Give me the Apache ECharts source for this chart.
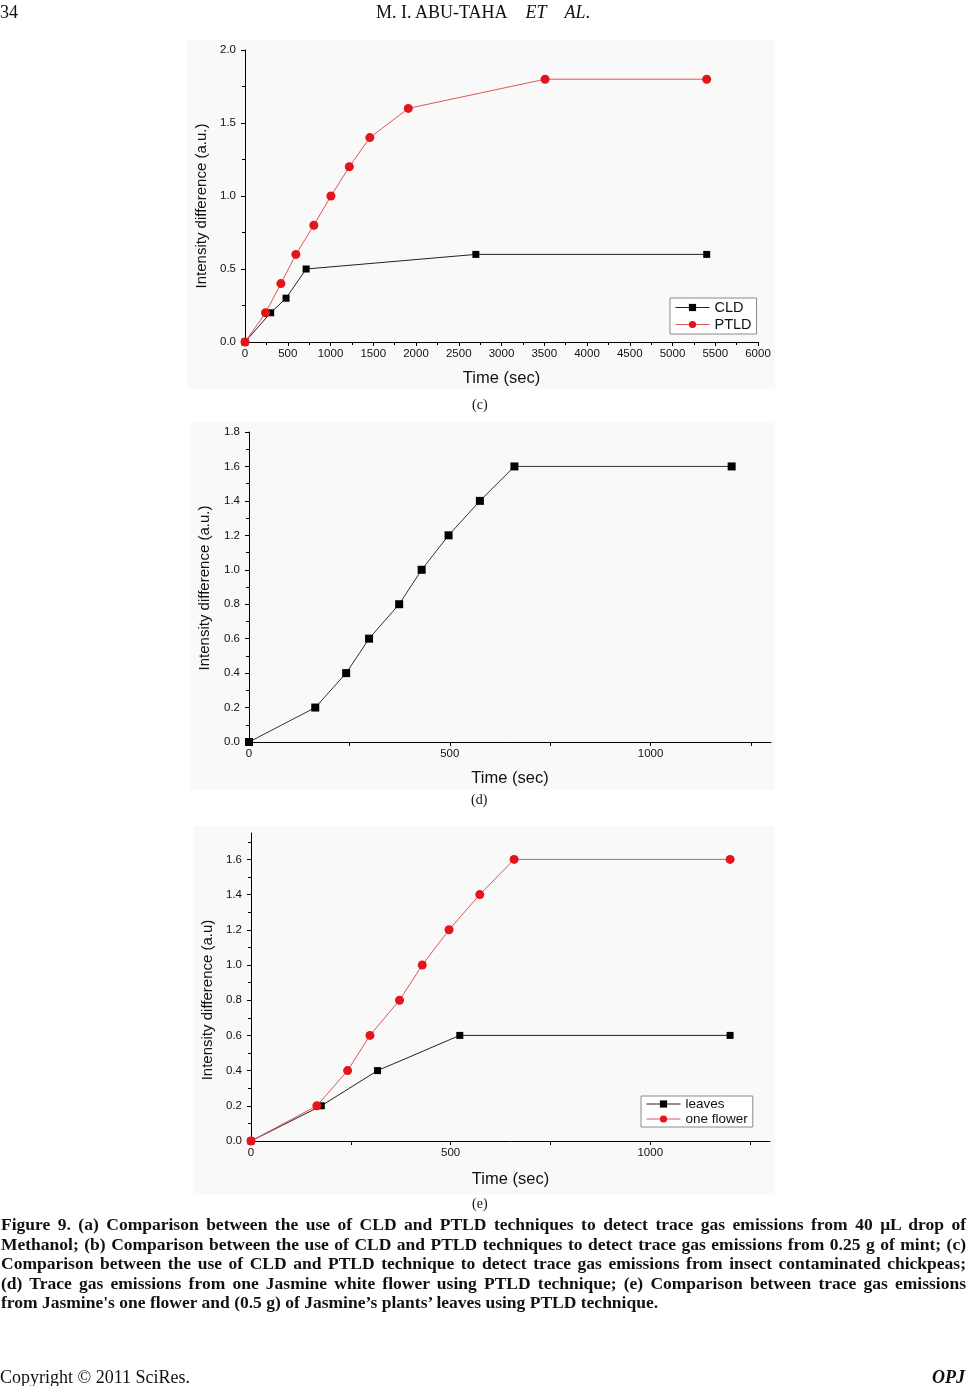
<!DOCTYPE html>
<html><head><meta charset="utf-8">
<script src="https://cdn.jsdelivr.net/npm/echarts@6/dist/echarts.min.js"></script>
<style>
html,body{margin:0;padding:0;background:#fff;}
#wrap{position:relative;width:970px;height:1386px;overflow:hidden;background:#fff;}
#chart{position:absolute;left:0;top:0;width:970px;height:1386px;}
.t{position:absolute;font-family:'Liberation Serif','Times New Roman',serif;color:#111;white-space:nowrap;z-index:5;}
.cap{position:absolute;left:1px;width:965px;font-family:'Liberation Serif','Times New Roman',serif;font-weight:bold;font-size:17.5px;line-height:19.5px;height:19.5px;color:#111;text-align:justify;text-align-last:justify;z-index:5;}
.cap.last{text-align:left;text-align-last:left;}
</style></head>
<body>
<div id="wrap">
<div id="chart"></div>
<div class="t" style="left:0;top:2px;font-size:18px;">34</div>
<div class="t" style="left:376px;top:2px;font-size:18px;">M. I. ABU-TAHA&nbsp;&nbsp;&nbsp;&nbsp;<i>ET</i>&nbsp;&nbsp;&nbsp;&nbsp;<i>AL</i>.</div>
<div class="t" style="left:472px;top:397px;font-size:14px;">(c)</div>
<div class="t" style="left:471px;top:792px;font-size:14px;">(d)</div>
<div class="t" style="left:472px;top:1196px;font-size:14px;">(e)</div>
<div class="cap" style="top:1215px;">Figure 9. (a) Comparison between the use of CLD and PTLD techniques to detect trace gas emissions from 40 μL drop of</div>
<div class="cap" style="top:1235px;">Methanol; (b) Comparison between the use of CLD and PTLD techniques to detect trace gas emissions from 0.25 g of mint; (c)</div>
<div class="cap" style="top:1254px;">Comparison between the use of CLD and PTLD technique to detect trace gas emissions from insect contaminated chickpeas;</div>
<div class="cap" style="top:1274px;">(d) Trace gas emissions from one Jasmine white flower using PTLD technique; (e) Comparison between trace gas emissions</div>
<div class="cap last" style="top:1293px;">from Jasmine's one flower and (0.5 g) of Jasmine’s plants’ leaves using PTLD technique.</div>
<div class="t" style="left:0;top:1367px;font-size:18px;">Copyright © 2011 SciRes.</div>
<div class="t" style="right:5px;top:1367px;font-size:18px;font-weight:bold;font-style:italic;">OPJ</div>
</div>
<script>
// ---- Panel (c): insect contaminated chickpeas ----
const cCldX  = [0, 300, 480, 715, 2700, 5400];
const cCldY  = [0, 0.2, 0.3, 0.5, 0.6, 0.6];
const cPtldX = [0, 240, 420, 595, 805, 1005, 1220, 1460, 1910, 3510, 5400];
const cPtldY = [0, 0.2, 0.4, 0.6, 0.8, 1.0, 1.2, 1.4, 1.6, 1.8, 1.8];
const cXLabels = [0, 500, 1000, 1500, 2000, 2500, 3000, 3500, 4000, 4500, 5000, 5500, 6000];
const cYLabels = [0, 0.5, 1.0, 1.5, 2.0];
// ---- Panel (d): one Jasmine flower ----
const dX = [0, 165, 242, 299, 374, 430, 497, 575, 661, 1202];
const dY = [0, 0.2, 0.4, 0.6, 0.8, 1.0, 1.2, 1.4, 1.6, 1.6];
const dXLabels = [0, 500, 1000];
const dXTicks = [0, 250, 500, 750, 1000, 1250];
const dYLabels = [0, 0.2, 0.4, 0.6, 0.8, 1.0, 1.2, 1.4, 1.6, 1.8];
// ---- Panel (e): leaves vs one flower ----
const eLeavesX = [0, 176, 317, 523, 1200];
const eLeavesY = [0, 0.2, 0.4, 0.6, 0.6];
const eFlowerX = [0, 165, 242, 298, 372, 429, 496, 573, 659, 1200];
const eFlowerY = [0, 0.2, 0.4, 0.6, 0.8, 1.0, 1.2, 1.4, 1.6, 1.6];
const eXLabels = [0, 500, 1000];
const eXTicks = [0, 250, 500, 750, 1000, 1250];
const eYLabels = [0, 0.2, 0.4, 0.6, 0.8, 1.0, 1.2, 1.4, 1.6];

const zip = (xs, ys) => xs.map((x, i) => [x, ys[i]]);
const SANS = "'Liberation Sans', Arial, sans-serif";
const BLACK = '#000';
const RED = '#e3141c';
const RED_LINE = '#e05555';

function xAx(grid, max, interval, labelVals, tickVals, minor, nameGap) {
  const ax = {
    type: 'value', gridIndex: grid, min: 0, max, interval,
    name: 'Time (sec)', nameLocation: 'middle', nameGap,
    nameTextStyle: {fontFamily: SANS, fontSize: 16.5, color: '#111'},
    axisLine: {show: true, onZero: false, lineStyle: {color: BLACK, width: 1}},
    axisTick: {show: true, inside: false, length: 4, lineStyle: {color: BLACK}},
    minorTick: {show: minor, splitNumber: 2, length: 3, lineStyle: {color: BLACK}},
    axisLabel: {show: true, margin: 6, fontFamily: SANS, fontSize: 11.5, color: '#111', customValues: labelVals,
      formatter: v => String(v)},
    splitLine: {show: false}
  };
  if (tickVals) ax.axisTick.customValues = tickVals;
  return ax;
}
function yAx(grid, max, interval, labelVals, name, nameGap, shift) {
  return {
    type: 'value', gridIndex: grid, min: 0, max, interval,
    name, nameLocation: 'middle', nameGap, nameRotate: 90,
    nameTextStyle: {fontFamily: SANS, fontSize: 15, color: '#111', padding: [0, shift, 0, 0]},
    axisLine: {show: true, onZero: false, lineStyle: {color: BLACK, width: 1}},
    axisTick: {show: true, inside: false, length: 4, customValues: labelVals, lineStyle: {color: BLACK}},
    minorTick: {show: true, splitNumber: 2, length: 3, lineStyle: {color: BLACK}},
    axisLabel: {show: true, margin: 9, fontFamily: SANS, fontSize: 11.5, color: '#111', customValues: labelVals,
      formatter: v => v.toFixed(1)},
    splitLine: {show: false}
  };
}

const chart = echarts.init(document.getElementById('chart'), null, {renderer: 'canvas'});
chart.setOption({
  animation: false,
  backgroundColor: '#fff',
  graphic: [
    {type: 'rect', z: -100, shape: {x: 187, y: 40, width: 588, height: 349}, style: {fill: '#f9f9f9'}},
    {type: 'rect', z: -100, shape: {x: 190, y: 423, width: 585, height: 367}, style: {fill: '#f9f9f9'}},
    {type: 'rect', z: -100, shape: {x: 193, y: 826, width: 582, height: 369}, style: {fill: '#f9f9f9'}}
  ],
  grid: [
    {left: 245, top: 50, width: 513, height: 292},
    {left: 249, top: 432, width: 522, height: 310},
    {left: 251, top: 833, width: 519, height: 308}
  ],
  xAxis: [
    xAx(0, 6000, 500, cXLabels, null, true, 28),
    xAx(1, 1300, 250, dXLabels, dXTicks, false, 28),
    xAx(2, 1300, 250, eXLabels, eXTicks, false, 30)
  ],
  yAxis: [
    yAx(0, 2.0, 0.5, cYLabels, 'Intensity difference (a.u.)', 36, 20),
    yAx(1, 1.8, 0.2, dYLabels, 'Intensity difference (a.u.)', 37, 2),
    yAx(2, 1.75, 0.2, eYLabels, 'Intensity difference (a.u)', 35, 26)
  ],
  legend: [
    {data: ['CLD', 'PTLD'], left: 670, top: 298, orient: 'vertical', borderColor: '#8a8a8a', borderWidth: 1,
     padding: [2, 5, 2, 5], itemGap: 2, itemWidth: 34, itemHeight: 9, backgroundColor: '#fff',
     lineStyle: {width: 1}, textStyle: {fontFamily: SANS, fontSize: 14.5, color: '#111'}, selectedMode: false},
    {data: ['leaves', 'one flower'], left: 641, top: 1096, orient: 'vertical', borderColor: '#8a8a8a', borderWidth: 1,
     padding: [1, 5, 1, 5], itemGap: 1, itemWidth: 34, itemHeight: 9, backgroundColor: '#fff',
     lineStyle: {width: 1}, textStyle: {fontFamily: SANS, fontSize: 13.5, color: '#111'}, selectedMode: false}
  ],
  series: [
    {name: 'CLD', type: 'line', xAxisIndex: 0, yAxisIndex: 0, data: zip(cCldX, cCldY),
     symbol: 'rect', symbolSize: 7, itemStyle: {color: BLACK}, lineStyle: {color: '#222', width: 1}, z: 3},
    {name: 'PTLD', type: 'line', xAxisIndex: 0, yAxisIndex: 0, data: zip(cPtldX, cPtldY),
     symbol: 'circle', symbolSize: 9, itemStyle: {color: RED}, lineStyle: {color: RED_LINE, width: 1}, z: 4},
    {name: 'flower (d)', type: 'line', xAxisIndex: 1, yAxisIndex: 1, data: zip(dX, dY),
     symbol: 'rect', symbolSize: 8, itemStyle: {color: BLACK}, lineStyle: {color: '#333', width: 1}},
    {name: 'leaves', type: 'line', xAxisIndex: 2, yAxisIndex: 2, data: zip(eLeavesX, eLeavesY),
     symbol: 'rect', symbolSize: 7, itemStyle: {color: BLACK}, lineStyle: {color: '#222', width: 1}, z: 3},
    {name: 'one flower', type: 'line', xAxisIndex: 2, yAxisIndex: 2, data: zip(eFlowerX, eFlowerY),
     symbol: 'circle', symbolSize: 9, itemStyle: {color: RED}, lineStyle: {color: RED_LINE, width: 1}, z: 4}
  ]
});
</script>
</body></html>
